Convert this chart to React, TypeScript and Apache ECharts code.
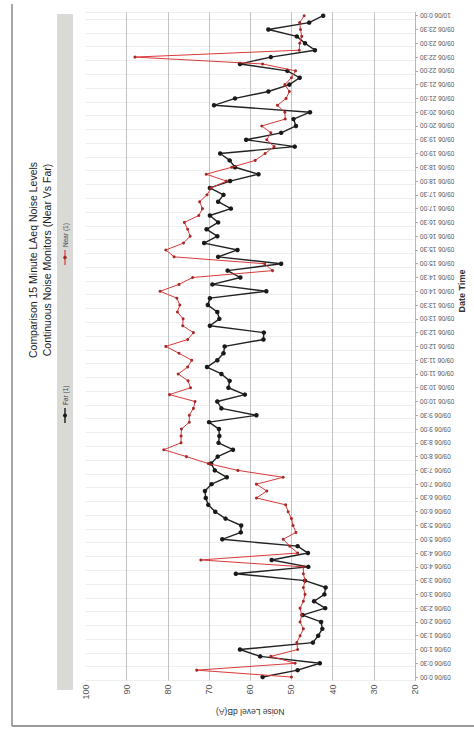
import React, { useEffect, useRef } from "react";
import * as echarts from "echarts";

// 15-minute time stamps (category axis), 09/06 0:00 -> 10/06 0:00
const categories = [
  "09/06 0:00", "09/06 0:15", "09/06 0:30", "09/06 0:45",
  "09/06 1:00", "09/06 1:15", "09/06 1:30", "09/06 1:45",
  "09/06 2:00", "09/06 2:15", "09/06 2:30", "09/06 2:45",
  "09/06 3:00", "09/06 3:15", "09/06 3:30", "09/06 3:45",
  "09/06 4:00", "09/06 4:15", "09/06 4:30", "09/06 4:45",
  "09/06 5:00", "09/06 5:15", "09/06 5:30", "09/06 5:45",
  "09/06 6:00", "09/06 6:15", "09/06 6:30", "09/06 6:45",
  "09/06 7:00", "09/06 7:15", "09/06 7:30", "09/06 7:45",
  "09/06 8:00", "09/06 8:15", "09/06 8:30", "09/06 8:45",
  "09/06 9:00", "09/06 9:15", "09/06 9:30", "09/06 9:45",
  "09/06 10:00", "09/06 10:15", "09/06 10:30", "09/06 10:45",
  "09/06 11:00", "09/06 11:15", "09/06 11:30", "09/06 11:45",
  "09/06 12:00", "09/06 12:15", "09/06 12:30", "09/06 12:45",
  "09/06 13:00", "09/06 13:15", "09/06 13:30", "09/06 13:45",
  "09/06 14:00", "09/06 14:15", "09/06 14:30", "09/06 14:45",
  "09/06 15:00", "09/06 15:15", "09/06 15:30", "09/06 15:45",
  "09/06 16:00", "09/06 16:15", "09/06 16:30", "09/06 16:45",
  "09/06 17:00", "09/06 17:15", "09/06 17:30", "09/06 17:45",
  "09/06 18:00", "09/06 18:15", "09/06 18:30", "09/06 18:45",
  "09/06 19:00", "09/06 19:15", "09/06 19:30", "09/06 19:45",
  "09/06 20:00", "09/06 20:15", "09/06 20:30", "09/06 20:45",
  "09/06 21:00", "09/06 21:15", "09/06 21:30", "09/06 21:45",
  "09/06 22:00", "09/06 22:15", "09/06 22:30", "09/06 22:45",
  "09/06 23:00", "09/06 23:15", "09/06 23:30", "09/06 23:45",
  "10/06 0:00",
];

// Far (1) monitor, dB(A)
const farValues = [
  57.0, 48.5, 43.1, 57.6, 62.5, 44.8, 43.5, 42.5, 42.8, 47.3,
  41.8, 44.5, 42.0, 41.7, 46.7, 63.5, 45.9, 54.8, 46.0, 48.5,
  66.8, 62.3, 62.2, 66.0, 68.5, 70.2, 70.8, 71.0, 69.4, 65.7,
  68.6, 69.5, 67.9, 64.2, 67.7, 67.5, 67.6, 70.0, 58.5, 67.0,
  68.0, 61.3, 65.3, 65.0, 67.0, 70.5, 68.0, 66.5, 66.2, 56.8,
  56.7, 69.8, 67.5, 68.0, 70.3, 69.8, 56.1, 69.2, 62.4, 65.5,
  52.5, 67.8, 63.1, 71.2, 68.0, 70.6, 67.8, 69.8, 64.7, 67.8,
  66.5, 69.8, 64.9, 58.0, 63.7, 65.0, 67.3, 49.2, 61.0, 52.5,
  48.9, 49.5, 45.5, 68.8, 63.7, 55.6, 50.5, 48.0, 51.0, 62.5,
  55.0, 44.3, 46.7, 48.7, 55.6, 45.7, 42.3,
];

// Near (1) monitor, dB(A)
const nearValues = [
  50.0, 73.0, 49.1, 55.0, 48.5, 48.7, 47.9, 47.1, 47.9, 47.5,
  47.9, 47.1, 46.7, 47.1, 46.7, 47.1, 47.1, 72.0, 48.5, 50.4,
  52.0, 48.9, 49.6, 50.0, 50.8, 51.4, 58.5, 56.0, 58.5, 52.0,
  63.0, 70.2, 75.5, 81.0, 76.8, 76.8, 76.7, 74.8, 74.8, 73.8,
  73.4, 79.6, 74.5, 75.1, 77.5, 75.2, 74.2, 77.3, 80.5, 75.2,
  73.8, 76.4, 76.3, 77.7, 77.1, 77.8, 81.9, 77.3, 74.0, 54.6,
  56.5, 78.5, 80.5, 76.2, 74.6, 75.2, 76.0, 72.5, 71.6, 72.3,
  70.5, 69.5, 65.8, 70.7, 64.5, 58.8, 56.4, 54.2, 56.0, 55.0,
  57.2, 51.5, 51.6, 53.4, 51.3, 50.5, 51.6, 50.0, 49.0, 57.0,
  88.0, 48.1, 48.0, 47.5, 47.8, 48.0, 46.9,
];

const titleLines = [
  "Comparison 15 Minute LAeq Noise Levels",
  "Continuous Noise Monitors (Near Vs Far)",
];
const seriesNames = ["Far (1)", "Near (1)"];
const valueAxisName = "Noise Level dB(A)";
const categoryAxisName = "Date Time";

const FONT = "'Liberation Sans Narrow', 'Liberation Sans', Arial, sans-serif";

function rotText(text: string, x: number, y: number, size: number, align: string, extra: any = {}) {
  return {
    type: "text",
    x,
    y,
    rotation: Math.PI / 2,
    style: {
      text,
      fontSize: size,
      fontFamily: FONT,
      fill: extra.fill || "#333",
      fontWeight: extra.fontWeight || "normal",
      align,
      verticalAlign: "middle",
      textAlign: align,
      textVerticalAlign: "middle",
    },
  };
}

export default function App() {
  const ref = useRef<HTMLDivElement>(null);
  useEffect(() => {
    if (!ref.current) return;
    const chart = echarts.init(ref.current, undefined, { renderer: "svg" });
    const option: any = {
      animation: false,
      backgroundColor: "#ffffff",
      grid: { left: 85.5, top: 12.3, width: 329.5, height: 668.2, containLabel: false },
      xAxis: {
        type: "value",
        min: 20,
        max: 100,
        interval: 10,
        inverse: true,
        position: "bottom",
        axisLine: { show: false },
        axisTick: { show: false },
        splitLine: { show: true, showMaxLine: false, lineStyle: { color: "#c2c2c2", width: 1 } },
        axisLabel: { rotate: 90, fontSize: 9, color: "#555", margin: 4, fontFamily: FONT },
        name: valueAxisName,
        nameLocation: "middle",
        nameRotate: 180,
        nameGap: 26,
        nameTextStyle: { fontSize: 8.5, color: "#333", fontFamily: FONT },
      },
      yAxis: {
        type: "category",
        position: "right",
        data: categories,
        boundaryGap: true,
        axisLine: { show: true, lineStyle: { color: "#b8b8b8" } },
        axisTick: { show: true, interval: 1, length: 3, alignWithLabel: true, lineStyle: { color: "#aaa" } },
        axisLabel: {
          interval: 1,
          rotate: 180,
          align: "right",
          verticalAlign: "middle",
          fontSize: 6.5,
          color: "#555",
          margin: 5,
          fontFamily: FONT,
        },
        splitLine: { show: true, interval: 1, lineStyle: { color: "#efefef" } },
      },
      series: [
        {
          name: seriesNames[0],
          type: "line",
          data: farValues,
          symbol: "circle",
          symbolSize: 4.5,
          lineStyle: { color: "#222", width: 1.4 },
          itemStyle: { color: "#1a1a1a" },
          z: 2,
        },
        {
          name: seriesNames[1],
          type: "line",
          data: nearValues,
          symbol: "circle",
          symbolSize: 3,
          lineStyle: { color: "#d83a3a", width: 1 },
          itemStyle: { color: "#a82828" },
          z: 3,
        },
      ],
      graphic: [
        // scanned page frame
        { type: "line", shape: { x1: 12, y1: 4, x2: 12, y2: 726 }, style: { stroke: "#8a8a8a", lineWidth: 1.5 } },
        { type: "line", shape: { x1: 12, y1: 726, x2: 474, y2: 726 }, style: { stroke: "#9a9a9a", lineWidth: 2 } },
        // legend band
        { type: "rect", shape: { x: 57, y: 14, width: 16, height: 676 }, style: { fill: "#d9d9d5" } },
        { type: "line", shape: { x1: 65, y1: 423, x2: 65, y2: 408 }, style: { stroke: "#1a1a1a", lineWidth: 1.4 } },
        { type: "circle", shape: { cx: 65, cy: 415.5, r: 2 }, style: { fill: "#1a1a1a" } },
        rotText(seriesNames[0], 65, 405, 6.5, "left", { fill: "#444" }),
        { type: "line", shape: { x1: 65, y1: 265, x2: 65, y2: 250 }, style: { stroke: "#d83a3a", lineWidth: 1.2 } },
        { type: "circle", shape: { cx: 65, cy: 257.5, r: 1.8 }, style: { fill: "#a82828" } },
        rotText(seriesNames[1], 65, 247, 6.5, "left", { fill: "#444" }),
        // title
        rotText(titleLines[0], 33, 260, 10.5, "center", { fill: "#222" }),
        rotText(titleLines[1], 46.5, 260, 10.5, "center", { fill: "#222" }),
        // category axis name
        rotText(categoryAxisName, 462, 291, 9, "center", { fill: "#333", fontWeight: "bold" }),
      ],
    };
    chart.setOption(option);
    return () => chart.dispose();
  }, []);
  return (
    <div
      ref={ref}
      style={{ position: "fixed", left: 0, top: 0, width: 474, height: 730, background: "#fff" }}
    />
  );
}
